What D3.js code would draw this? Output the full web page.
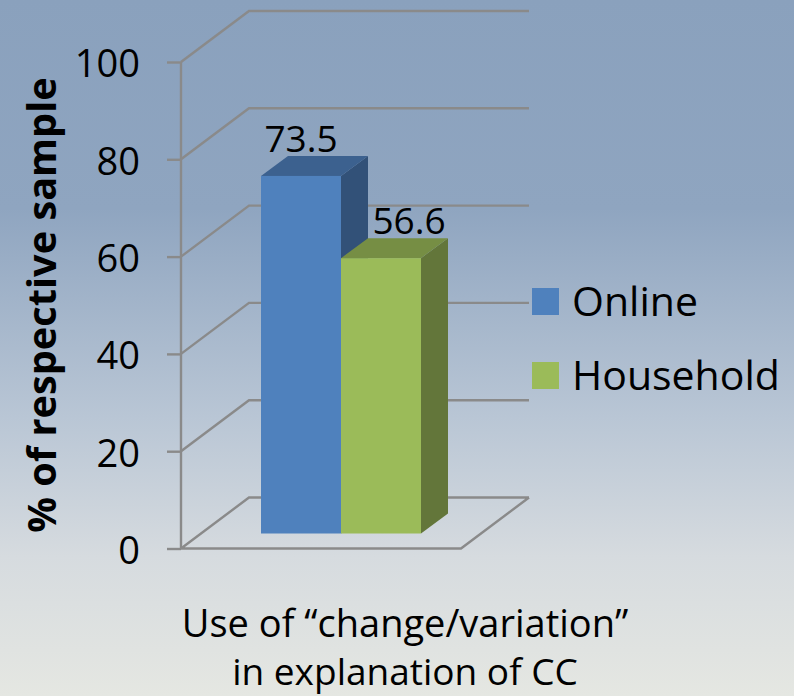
<!DOCTYPE html>
<html><head><meta charset="utf-8">
<script src="https://cdn.jsdelivr.net/npm/d3@7"></script>
<style>html,body{margin:0;padding:0;background:#fff}svg{display:block}text{font-family:"Open Sans",sans-serif;fill:#000}</style>
</head><body><div id="c"></div>
<script>
const seriesNames = ["Online","Household"];
const seriesValues = [73.5,56.6];
const valueLabels = ["73.5","56.6"];
const frontColors = ["#4f81bd","#9bbb59"];
const topColors = ["#3c618f","#768e44"];
const sideColors = ["#325178","#63763a"];
const yTicks = [0,20,40,60,80,100];
const xTitle = ["Use of “change/variation”","in explanation of CC"];
const yTitle = "% of respective sample";

const W=794,H=696;
const svg=d3.select("#c").append("svg").attr("width",W).attr("height",H);
const defs=svg.append("defs");
const g=defs.append("linearGradient").attr("id","bg").attr("x1",0).attr("x2",0).attr("y1",0).attr("y2",1);
[[0,"#8aa1bd"],[0.3,"#8fa5c0"],[0.6,"#b9c6d5"],[0.8,"#d6dbdf"],[1,"#e5e7e2"]].forEach(s=>g.append("stop").attr("offset",s[0]).attr("stop-color",s[1]));
svg.append("rect").attr("width",W).attr("height",H).attr("fill","url(#bg)");

const y=d3.scaleLinear().domain([0,100]).range([548.5,62]);
const x0=181, wallW=280, dx=68, dy=-51;
const barFrac=15/51, bdy=dy*barFrac;
const barDx=27, barDy=-20;
const x=d3.scaleBand().domain(seriesNames).range([261,421]);
const gridC="#8a8a8a", gridW=2.4;
const grid=svg.append("g").attr("fill","none").attr("stroke",gridC).attr("stroke-width",gridW);
const path=d3.path();
yTicks.forEach(t=>{
  path.moveTo(x0,y(t));path.lineTo(x0+dx,y(t)+dy);path.lineTo(x0+dx+wallW,y(t)+dy);
});
path.moveTo(x0+wallW+dx,y(0)+dy);path.lineTo(x0+wallW,y(0));path.lineTo(x0,y(0));
grid.append("path").attr("d",path.toString());
const axisG=svg.append("g").attr("transform",`translate(${x0},0)`);
axisG.call(d3.axisLeft(y).tickValues(yTicks).tickSize(14).tickPadding(27).tickFormat(d3.format("d")));
axisG.selectAll("path,line").attr("stroke",gridC).attr("stroke-width",gridW);
axisG.select(".domain").attr("d",`M0,${y(0)}V${y(100)}`);
axisG.selectAll(".tick line").attr("x2",-14).attr("x1",0);
axisG.selectAll("text").style("font-size","38px").attr("font-family",null).attr("dy","0.39em");

const base=y(0)+bdy;
const vh=v=>y(0)-y(v);
const bars=svg.append("g");
seriesNames.forEach((n,i)=>{
  const l=x(n),r=l+x.bandwidth(),top=base-vh(seriesValues[i]);
  bars.append("polygon").attr("points",[[r,base],[r+barDx,base+barDy],[r+barDx,top+barDy],[r,top]].join(" ")).attr("fill",sideColors[i]);
  bars.append("polygon").attr("points",[[l,top],[l+barDx,top+barDy],[r+barDx,top+barDy],[r,top]].join(" ")).attr("fill",topColors[i]);
  bars.append("rect").attr("x",l).attr("y",top).attr("width",x.bandwidth()).attr("height",base-top).attr("fill",frontColors[i]);
  bars.append("text").attr("x",(l+r)/2+i*28).attr("y",top+barDy-4).attr("text-anchor","middle").style("font-size","37px").text(valueLabels[i]);
});

const legendY=d3.scalePoint().domain(seriesNames).range([302,376]);
seriesNames.forEach((n,i)=>{
  svg.append("rect").attr("x",532).attr("y",legendY(n)-14).attr("width",27).attr("height",27).attr("fill",frontColors[i]);
  svg.append("text").attr("x",572).attr("y",legendY(n)+14).style("font-size","41px").text(n);
});
xTitle.forEach((t,i)=>svg.append("text").attr("x",405).attr("y",637+i*48).attr("text-anchor","middle").style("font-size",i?"37px":"38px").text(t));
svg.append("text").attr("transform","translate(56,305) rotate(-90)").attr("text-anchor","middle").style("font-size","39.7px").style("font-weight","700").text(yTitle);
</script></body></html>
